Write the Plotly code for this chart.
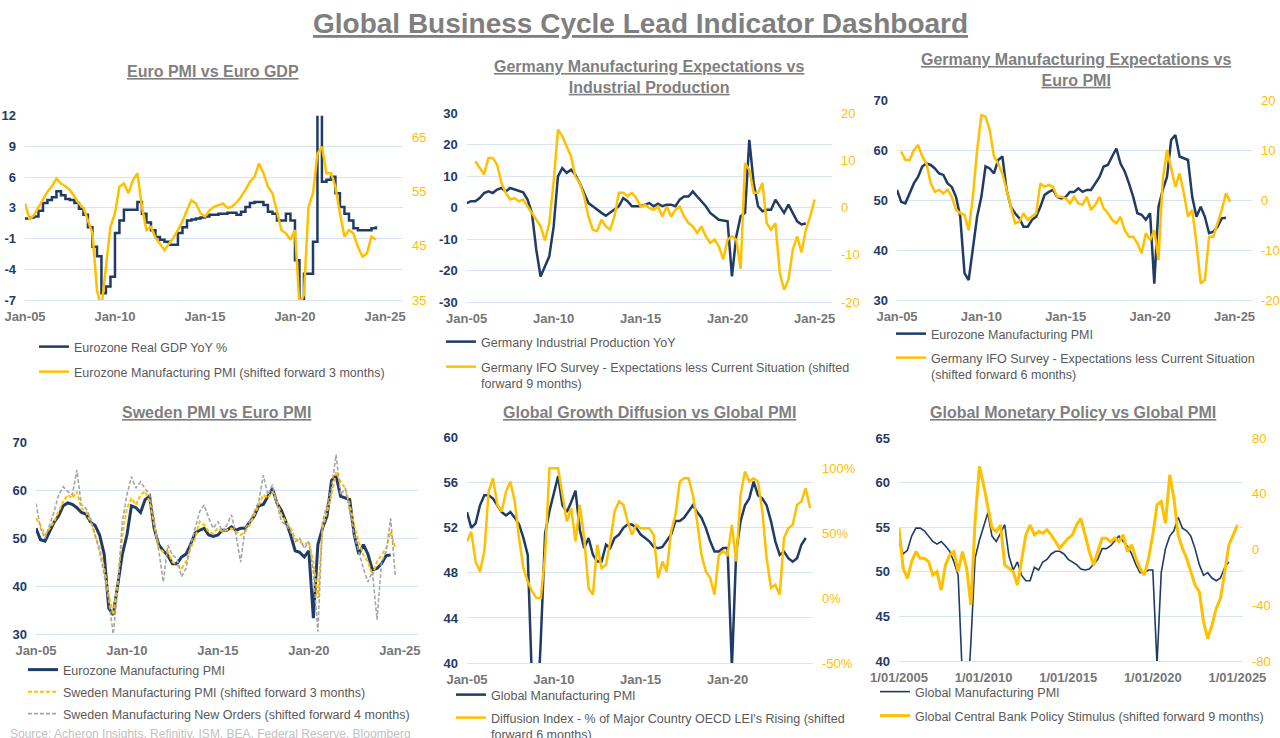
import pandas as pd
import plotly.graph_objects as go

# ---------------- DATA (quarterly readings from the reference) ----------------
# Panel 1: Euro PMI vs Euro GDP
EZ_GDP_START = "2005-01-01"
EZ_GDP = [1.4, 1.5, 1.6, 2.2, 3.0, 3.3, 3.6, 4.2, 3.8, 3.4, 3.3, 3.0,
          2.4, 1.8, 0.5, -1.5, -2.5, -6.3, -5.6, -4.6, -0.1, 1.2, 2.3, 2.3,
          2.3, 3.1, 1.9, 1.0, 0.2, -0.5, -0.8, -1.0, -1.3, -1.3, -0.1, 0.5,
          1.2, 1.3, 1.4, 1.5, 1.6, 1.8, 1.8, 1.9, 1.9, 2.0, 2.0, 1.8,
          2.1, 2.6, 3.0, 3.1, 3.1, 2.8, 2.1, 1.9, 1.2, 1.2, 1.9, 1.2,
          -2.9, -14.5, -4.3, -4.3, -1.0, 14.0, 5.2, 5.4, 5.7, 4.0, 2.6, 1.9,
          1.2, 0.4, 0.2, 0.2, 0.2, 0.4, 0.6]
EZ_PMI_FWD3_START = "2005-01-01"
EZ_PMI_FWD3 = [52.8, 50.0, 50.6, 52.0, 53.4, 55.0, 56.0, 57.4, 56.5, 56.0, 55.3, 54.0,
               52.8, 52.0, 49.8, 47.3, 36.8, 33.5, 41.1, 48.5, 51.0, 55.9, 56.5, 54.7,
               57.1, 58.4, 52.2, 47.9, 48.5, 46.5, 45.4, 44.2, 45.4, 46.5, 47.9, 49.5,
               51.6, 53.4, 52.8, 51.0, 50.4, 51.5, 52.2, 52.5, 52.8, 52.0, 52.2, 53.0,
               54.0, 55.3, 56.8, 57.7, 60.2, 58.4, 55.9, 54.7, 51.0, 47.9, 47.3, 46.1,
               47.9, 34.0, 36.0, 52.2, 54.7, 62.0, 63.3, 58.4, 58.4, 55.9, 51.0, 46.7,
               47.9, 47.3, 44.8, 43.0, 43.6, 46.7, 46.1]

# Panel 2: Germany IFO (9m fwd) vs Industrial Production
DE_IP_START = "2005-01-01"
DE_IP = [1.4, 2.0, 2.0, 3.0, 4.6, 5.1, 4.6, 5.7, 6.2, 5.1, 6.2, 5.7,
         5.1, 4.8, 2.5, -1.7, -13.4, -21.9, -18.7, -15.5, -6.0, 9.9, 12.5, 11.0,
         12.0, 10.4, 7.8, 4.6, 1.4, 0.4, -0.7, -1.7, -2.6, -1.7, -0.7, 0.4,
         3.0, 2.0, 0.4, 0.4, 0.4, 0.9, 1.4, 0.4, 1.2, 0.4, 0.9, 0.9,
         0.4, 2.5, 3.5, 3.5, 5.1, 3.5, 2.0, 0.4, -1.7, -2.8, -3.9, -4.1,
         -4.4, -21.9, -9.2, -2.8, -1.7, 21.5, 7.8, 0.4, -1.2, -0.7, -0.7, 2.5,
         0.4, -1.7, 0.9, -1.7, -4.4, -5.4, -5.1]
IFO_FWD9_START = "2005-07-01"
IFO_FWD9 = [9.8, 8.4, 7.0, 10.5, 10.5, 9.1, 5.2, 3.1, 1.7, 2.0,
            1.3, 1.7, 0.2, -1.2, -2.6, -4.0, -7.0, -3.3, 5.5, 16.5, 15.1, 12.9,
            10.8, 6.6, 5.2, 2.4, -1.9, -4.7, -5.0, -2.6, -4.0, -4.7, -1.9, 3.1,
            3.1, 2.4, 3.1, 2.0, 0.2, 0.6, -0.1, -0.5, 0.2, -1.9, 0.2, -1.9,
            -0.5, 0.2, -1.9, -3.3, -4.0, -5.4, -4.0, -6.1, -7.5, -6.8, -8.2, -11.0,
            -6.8, -6.1, -6.8, -13.0, 9.4, 8.0, 3.1, 3.1, 5.2, -3.3, -4.7, -3.3,
            -13.9, -17.4, -15.3, -8.9, -6.1, -9.5, -4.7, -1.9, 1.7]

# Panel 3 / 4: Eurozone Manufacturing PMI
EZ_PMI_START = "2005-01-01"
EZ_PMI = [52.1, 49.7, 49.4, 51.4, 53.4, 54.7, 56.8, 57.4, 57.1, 56.4, 55.4, 55.1,
          53.4, 52.7, 50.7, 46.7, 35.4, 34.0, 40.7, 46.7, 50.7, 56.8, 56.4, 55.4,
          58.1, 58.8, 52.1, 48.7, 47.4, 46.4, 44.7, 44.7, 46.1, 46.7, 48.7, 51.1,
          51.7, 52.1, 50.7, 50.4, 50.7, 51.7, 51.7, 52.4, 51.7, 52.1, 52.1, 53.4,
          54.7, 56.8, 57.1, 58.8, 60.4, 57.4, 55.8, 53.4, 50.7, 47.4, 47.1, 46.1,
          47.4, 33.3, 48.7, 52.1, 54.7, 62.1, 63.1, 58.8, 58.4, 58.1, 50.7, 46.7,
          48.7, 46.7, 43.4, 43.7, 44.7, 46.4, 46.5]
IFO_FWD6_START = "2005-04-01"
IFO_FWD6 = [9.8, 8.1, 8.1, 10.1, 11.1, 8.8, 7.4, 3.4, 1.7, 2.1, 1.4,
            2.1, 0.7, -1.9, -2.6, -2.9, -6.0, 0.7, 10.1, 17.1, 16.8, 14.1, 8.8,
            7.4, 5.4, 2.1, -1.3, -4.6, -4.3, -2.6, -3.9, -3.3, -2.6, 3.4, 2.7,
            3.1, 2.7, 0.7, 0.7, 0.4, -0.6, 0.7, -0.6, -0.9, 0.7, -1.9, -0.9,
            0.7, -1.6, -2.6, -3.9, -4.6, -3.3, -6.0, -7.3, -7.3, -8.6, -10.6, -6.6,
            -8.0, -6.0, -12.0, 4.1, 10.1, 6.1, 2.7, 5.4, 1.4, -3.3, -1.9, -8.6,
            -16.7, -16.0, -7.3, -7.3, -4.6, -1.9, 1.4, -0.3]

# Panel 4: Sweden PMI / New Orders
SE_PMI_FWD3_START = "2005-01-01"
SE_PMI_FWD3 = [54.2, 52.8, 50.7, 52.1, 53.5, 55.6, 57.7, 59.1, 58.4, 59.8, 56.3, 55.6,
               53.5, 50.7, 47.9, 43.7, 38.2, 34.0, 41.0, 50.7, 56.3, 58.4, 57.0, 59.1,
               59.8, 57.7, 52.8, 47.9, 47.2, 47.2, 45.1, 44.4, 43.7, 45.1, 47.9, 50.0,
               53.5, 52.8, 51.4, 51.0, 52.1, 51.4, 51.7, 52.1, 51.4, 50.7, 51.4, 52.8,
               54.9, 57.0, 59.1, 58.4, 59.8, 57.7, 54.9, 53.5, 52.1, 50.0, 49.3, 48.6,
               49.3, 45.1, 37.5, 52.1, 55.6, 59.1, 63.9, 61.8, 60.5, 57.0, 52.8, 49.3,
               46.5, 45.1, 42.3, 45.1, 46.5, 47.9, 51.4, 47.9]
SE_NO_FWD4_START = "2005-01-01"
SE_NO_FWD4 = [57.3, 52.1, 50.0, 52.8, 55.6, 59.1, 60.8, 59.8, 59.1, 64.3, 57.0, 56.3,
              54.2, 50.7, 47.2, 42.3, 36.8, 30.0, 39.5, 53.5, 59.1, 62.9, 60.5, 61.8,
              60.5, 59.1, 54.2, 47.2, 40.9, 48.6, 46.5, 45.8, 42.0, 43.7, 48.6, 52.1,
              55.6, 57.0, 54.2, 52.1, 53.5, 51.4, 52.8, 54.9, 50.7, 45.0, 52.1, 53.5,
              55.6, 57.7, 63.2, 59.1, 61.2, 57.0, 53.5, 52.8, 51.4, 49.3, 50.0, 47.9,
              49.3, 43.0, 30.5, 53.5, 57.0, 60.5, 67.5, 59.1, 60.5, 55.6, 50.7, 47.2,
              43.7, 40.9, 43.0, 33.0, 45.1, 47.2, 54.2, 42.3]

# Panel 5 / 6: Global Manufacturing PMI
GL_PMI_START = "2005-01-01"
GL_PMI = [53.4, 52.0, 52.4, 54.0, 54.9, 54.9, 54.6, 54.0, 53.4, 53.1, 53.4, 52.9,
          52.3, 51.1, 49.6, 38.0, 34.0, 42.0, 51.5, 53.5, 55.0, 56.6, 54.0, 53.4,
          54.3, 55.3, 51.8, 50.2, 51.1, 49.6, 49.0, 49.0, 50.5, 50.2, 51.1, 51.4,
          52.0, 52.3, 52.3, 52.0, 51.4, 51.1, 50.8, 50.3, 50.2, 50.3, 50.8, 51.4,
          52.6, 52.6, 52.9, 53.4, 54.0, 53.4, 52.9, 52.0, 50.8, 49.9, 49.9, 50.2,
          50.2, 39.6, 49.9, 52.6, 54.0, 54.6, 56.1, 54.9, 54.6, 54.0, 52.6, 50.8,
          49.6, 49.9, 49.3, 49.0, 49.3, 50.5, 51.1]
DIFFUSION_START = "2005-01-01"
DIFFUSION = [43.6, 51.0, 28.0, 20.5, 36.0, 82.0, 92.3, 71.8, 66.7, 82.0, 89.7, 74.4,
             46.0, 23.0, 12.8, 5.1, 0.0, 0.0, 33.3, 100.0, 100.0, 100.0, 79.5, 59.0,
             69.2, 43.6, 71.8, 46.0, 7.7, 2.6, 41.0, 23.0, 25.6, 43.6, 66.7, 74.4,
             71.8, 59.0, 48.7, 56.4, 53.8, 53.8, 53.8, 48.7, 15.4, 28.2, 20.5, 51.3,
             64.1, 89.7, 92.3, 92.3, 79.5, 59.0, 33.3, 20.5, 15.4, 2.6, 33.3, 35.9,
             33.3, 56.4, 28.2, 79.5, 97.4, 89.7, 92.3, 89.7, 66.7, 30.8, 7.7, 10.3,
             2.6, 46.2, 53.8, 56.4, 71.8, 74.4, 84.6, 69.2]
CB_STIM_START = "2005-01-01"
CB_STIM = [15.3, -13.5, -20.7, -8.7, -1.5, -6.3, -6.3, -8.7, -18.3, -15.9, -29.1, -11.1,
           -3.9, -1.5, -15.9, -1.5, -13.5, -39.9, 20.0, 59.6, 46.4, 32.0, 15.3, 12.9,
           17.6, -11.1, -13.5, -15.9, -25.5, -8.7, 10.5, 17.6, 10.5, 12.9, 11.7, 14.1,
           10.5, 5.7, 0.9, 4.5, 8.1, 10.5, 17.6, 22.4, 10.5, -1.5, -11.1, -1.5,
           8.1, 8.1, 5.7, 8.1, 5.7, 10.5, -1.5, 3.3, -6.3, -13.5, -18.3, -6.3,
           10.5, 32.0, 34.4, 18.8, 53.6, 36.8, 10.5, 0.9, -6.3, -15.9, -25.5, -30.3,
           -51.9, -63.9, -54.3, -42.3, -35.1, -15.9, 3.3, 10.5, 17.6]

# Tick labels
JAN_TICKS = ["2005-01-01", "2010-01-01", "2015-01-01", "2020-01-01", "2025-01-01"]
JAN_TEXT = ["Jan-05", "Jan-10", "Jan-15", "Jan-20", "Jan-25"]
DATE_TEXT = ["1/01/2005", "1/01/2010", "1/01/2015", "1/01/2020", "1/01/2025"]
P1_LEFT_TEXT = ["-7", "-4", "-1", "3", "6", "9", "12"]

# ---------------- STYLE ----------------
W, H = 1280, 738
FONT = "Liberation Sans, Arial, sans-serif"
NAVY = "#1F3B66"
GOLD = "#FFC000"
GREYD = "#A6A6A6"
GRID = "#D9E4F2"
TITLE = "#7F7F7F"
LEG = "#595959"
XTXT = "#767676"


def qd(start, n):
    return pd.date_range(start, periods=n, freq="3MS")


def px_x(p):
    return p / W


def px_y(p):
    return 1 - p / H


fig = go.Figure()


def add(x_start, vals, xa, ya, color, width, leg, name, dash=None, shape="linear"):
    fig.add_trace(go.Scatter(
        x=qd(x_start, len(vals)), y=vals, mode="lines", name=name,
        xaxis=xa, yaxis=ya, legend=leg, line_shape=shape,
        line=dict(color=color, width=width, dash=dash), hoverinfo="skip"))


# Panel 1
add(EZ_GDP_START, EZ_GDP, "x", "y", NAVY, 2.5, "legend", "Eurozone Real GDP YoY %", shape="hv")
add(EZ_PMI_FWD3_START, EZ_PMI_FWD3, "x", "y2", GOLD, 2.5, "legend2",
    "Eurozone Manufacturing PMI (shifted forward 3 months)")
# Panel 2
add(DE_IP_START, DE_IP, "x2", "y3", NAVY, 2.5, "legend3", "Germany Industrial Production YoY")
add(IFO_FWD9_START, IFO_FWD9, "x2", "y4", GOLD, 2.5, "legend4",
    "Germany IFO Survey - Expectations less Current Situation (shifted<br>forward 9 months)")
# Panel 3
add(EZ_PMI_START, EZ_PMI, "x3", "y5", NAVY, 2.5, "legend5", "Eurozone Manufacturing PMI")
add(IFO_FWD6_START, IFO_FWD6, "x3", "y6", GOLD, 2.5, "legend6",
    "Germany IFO Survey - Expectations less Current Situation<br>(shifted forward 6 months)")
# Panel 4
add(EZ_PMI_START, EZ_PMI, "x4", "y7", NAVY, 3, "legend7", "Eurozone Manufacturing PMI")
add(SE_PMI_FWD3_START, SE_PMI_FWD3, "x4", "y7", GOLD, 2, "legend8",
    "Sweden Manufacturing PMI (shifted forward 3 months)", dash="4px,2px")
add(SE_NO_FWD4_START, SE_NO_FWD4, "x4", "y7", GREYD, 1.6, "legend9",
    "Sweden Manufacturing New Orders (shifted forward 4 months)", dash="4px,2px")
# Panel 5
add(GL_PMI_START, GL_PMI, "x5", "y8", NAVY, 2.5, "legend10", "Global Manufacturing PMI")
add(DIFFUSION_START, DIFFUSION, "x5", "y9", GOLD, 2.5, "legend11",
    "Diffusion Index - % of Major Country OECD LEI's Rising (shifted<br>forward 6 months)")
# Panel 6
add(GL_PMI_START, GL_PMI, "x6", "y10", NAVY, 1.6, "legend12", "Global Manufacturing PMI")
add(CB_STIM_START, CB_STIM, "x6", "y11", GOLD, 3, "legend13",
    "Global Central Bank Policy Stimulus (shifted forward 9 months)")

# ---------------- AXES ----------------
panels = {
    # key: (x0, x1, ytop, ybottom, xrange, ticktext, anchor y)
    1: (25, 403, 115.7, 300, ["2005-01-01", "2026-01-01"], JAN_TEXT, "y"),
    2: (466.7, 832, 113, 302, ["2005-01-01", "2026-01-01"], JAN_TEXT, "y3"),
    3: (897, 1252, 100.7, 300, ["2005-01-01", "2026-01-15"], JAN_TEXT, "y5"),
    4: (36, 418, 442.7, 634, ["2005-01-01", "2026-01-01"], JAN_TEXT, "y7"),
    5: (467, 813, 437.7, 663, ["2005-01-01", "2024-12-01"], JAN_TEXT, "y8"),
    6: (899, 1243, 438, 661, ["2005-01-01", "2025-05-01"], DATE_TEXT, "y10"),
}

layout = dict()
ydoms = {}
for k, (x0, x1, yt, yb, xr, tt, anc) in panels.items():
    key = "xaxis" if k == 1 else f"xaxis{k}"
    ydoms[k] = [px_y(yb), px_y(yt)]
    layout[key] = dict(
        domain=[px_x(x0), px_x(x1)], anchor=anc, range=xr, type="date",
        tickvals=JAN_TICKS, ticktext=tt, showgrid=False, zeroline=False,
        showline=True, linecolor=GRID, linewidth=1, ticks="",
        tickfont=dict(family=FONT, size=13, color=XTXT, weight="bold"),
        ticklabelstandoff=4, fixedrange=True)

left_tick = dict(family=FONT, size=13, color=NAVY, weight="bold")
right_tick = dict(family=FONT, size=13, color=GOLD)


def left(dom, xa, rng, tv, tt):
    return dict(domain=dom, anchor=xa, range=rng, tickvals=tv, ticktext=tt,
                showgrid=True, gridcolor=GRID, gridwidth=1, zeroline=False,
                ticks="", tickfont=left_tick, ticklabelstandoff=8, fixedrange=True)


def right(over, xa, rng, tv, tt):
    return dict(overlaying=over, anchor=xa, side="right", range=rng, tickvals=tv,
                ticktext=tt, showgrid=False, zeroline=False, ticks="",
                tickfont=right_tick, ticklabelstandoff=8, fixedrange=True)


p1_tv = [-7 + i * 19 / 6 for i in range(7)]
layout["yaxis"] = left(ydoms[1], "x", [-7, 12], p1_tv, P1_LEFT_TEXT)
layout["yaxis2"] = right("y", "x", [35, 69], [35, 45, 55, 65], ["35", "45", "55", "65"])
layout["yaxis3"] = left(ydoms[2], "x2", [-30, 30], [-30, -20, -10, 0, 10, 20, 30],
                        ["-30", "-20", "-10", "0", "10", "20", "30"])
layout["yaxis4"] = right("y3", "x2", [-20, 20], [-20, -10, 0, 10, 20],
                         ["-20", "-10", "0", "10", "20"])
layout["yaxis5"] = left(ydoms[3], "x3", [30, 70], [30, 40, 50, 60, 70],
                        ["30", "40", "50", "60", "70"])
layout["yaxis6"] = right("y5", "x3", [-20, 20], [-20, -10, 0, 10, 20],
                         ["-20", "-10", "0", "10", "20"])
layout["yaxis7"] = left(ydoms[4], "x4", [30, 70], [30, 40, 50, 60, 70],
                        ["30", "40", "50", "60", "70"])
layout["yaxis8"] = left(ydoms[5], "x5", [40, 60], [40, 44, 48, 52, 56, 60],
                        ["40", "44", "48", "52", "56", "60"])
layout["yaxis9"] = right("y8", "x5", [-50, 123.5], [-50, 0, 50, 100],
                         ["-50%", "0%", "50%", "100%"])
layout["yaxis10"] = left(ydoms[6], "x6", [40, 65], [40, 45, 50, 55, 60, 65],
                         ["40", "45", "50", "55", "60", "65"])
layout["yaxis11"] = right("y10", "x6", [-80, 80], [-80, -40, 0, 40, 80],
                          ["-80", "-40", "0", "40", "80"])

# ---------------- LEGENDS ----------------
leg_pos = {
    "legend": (74, 348), "legend2": (74, 373),
    "legend3": (481, 343), "legend4": (481, 368),
    "legend5": (931, 335), "legend6": (931, 359),
    "legend7": (63, 671), "legend8": (63, 693), "legend9": (63, 715),
    "legend10": (491, 696), "legend11": (491, 719),
    "legend12": (915, 693), "legend13": (915, 717),
}
for name, (tx, ly) in leg_pos.items():
    layout[name] = dict(
        x=px_x(tx - 40), y=px_y(ly - 16), xanchor="left", yanchor="top",
        xref="paper", yref="paper", bgcolor="rgba(0,0,0,0)", borderwidth=0,
        font=dict(family=FONT, size=12.5, color=LEG), itemwidth=30, valign="top",
        itemclick=False, itemdoubleclick=False)

# ---------------- TITLES ----------------
ann = []


def title(text, cx, cy, size=16):
    ann.append(dict(text=text, x=px_x(cx), y=px_y(cy), xref="paper", yref="paper",
                    xanchor="center", yanchor="middle", showarrow=False,
                    font=dict(family=FONT, size=size, color=TITLE)))


title("<b><u>Global Business Cycle Lead Indicator Dashboard</u></b>", 640, 23, 28)
title("<b><u>Euro PMI vs Euro GDP</u></b>", 213, 72)
title("<b><u>Germany Manufacturing Expectations vs</u></b><br><b><u>Industrial Production</u></b>", 649, 77)
title("<b><u>Germany Manufacturing Expectations vs</u></b><br><b><u>Euro PMI</u></b>", 1076, 70)
title("<b><u>Sweden PMI vs Euro PMI</u></b>", 216, 412)
title("<b><u>Global Growth Diffusion vs Global PMI</u></b>", 649, 412)
title("<b><u>Global Monetary Policy vs Global PMI</u></b>", 1073, 412)
ann.append(dict(text="Source: Acheron Insights, Refinitiv, ISM, BEA, Federal Reserve, Bloomberg",
                x=px_x(8), y=px_y(734), xref="paper", yref="paper", xanchor="left",
                yanchor="middle", showarrow=False,
                font=dict(family=FONT, size=12, color="#BFBFBF")))

fig.update_layout(
    width=W, height=H, margin=dict(l=0, r=0, t=0, b=0, autoexpand=False),
    paper_bgcolor="white", plot_bgcolor="white",
    font=dict(family=FONT), annotations=ann, showlegend=True, hovermode=False,
    **layout)

fig.write_html("out.html", config={"displayModeBar": False},
               post_script="document.body.style.margin='0';document.body.style.overflow='hidden';")
